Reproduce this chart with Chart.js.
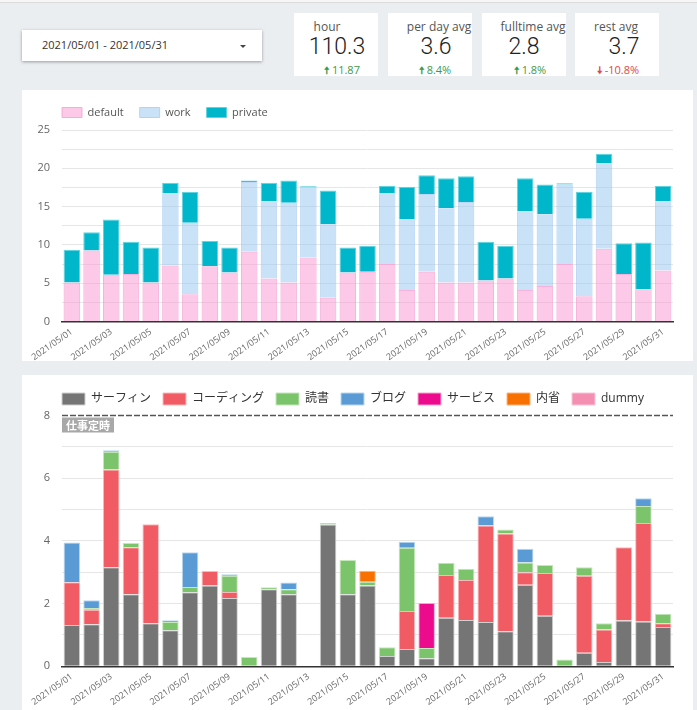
<!DOCTYPE html>
<html>
<head>
<meta charset="utf-8">
<script src="https://cdn.jsdelivr.net/npm/chart.js@4.4.1/dist/chart.umd.min.js"></script>
<style>
  body { margin: 0; width: 697px; height: 710px; overflow: hidden; background: #ebeef1;
         font-family: 'Open Sans', 'Noto Sans CJK JP', sans-serif; position: relative; }
  .topline { position: absolute; left: 0; top: 0; width: 697px; height: 2px; background: #f6f6f6; border-bottom: 1px solid #dcdcdc; }
  .picker { position: absolute; left: 22px; top: 30px; width: 240px; height: 31px; background: #fff;
            box-shadow: 0 1px 3px rgba(0,0,0,0.35); }
  .picker span { position: absolute; left: 20px; top: 7px; font-size: 11px; color: #333; }
  .picker i { position: absolute; left: 218px; top: 15px; width: 0; height: 0;
              border-left: 3px solid transparent; border-right: 3px solid transparent; border-top: 3px solid #444; }
  .card { position: absolute; top: 13px; height: 63px; background: #fff; }
  .card span { position: absolute; transform: translateX(-50%); white-space: nowrap; }
  .card .lbl { top: 5px; font-size: 12px; color: #555; }
  .card .val { top: 20px; font-size: 23px; color: #222; font-family: Roboto, sans-serif; font-weight: 300; }
  .card .up { top: 49px; font-size: 11px; color: #3b9a4b; }
  .card .down { top: 49px; font-size: 11px; color: #e04848; }
  .card b { font-size: 10px; }
  .panel { position: absolute; left: 22px; width: 671px; background: #fff; }
</style>
</head>
<body>
<div class="topline"></div>
<div class="picker"><span>2021/05/01 - 2021/05/31</span><i></i></div>

<div class="card" style="left:294px;width:84px">
  <span class="lbl" style="left:33px">hour</span>
  <span class="val" style="left:43px">110.3</span>
  <span class="up" style="left:48px"><b>🠅</b> 11.87</span>
</div>
<div class="card" style="left:388px;width:84px">
  <span class="lbl" style="left:51px">per day avg</span>
  <span class="val" style="left:48px">3.6</span>
  <span class="up" style="left:47px"><b>🠅</b> 8.4%</span>
</div>
<div class="card" style="left:482px;width:84px">
  <span class="lbl" style="left:51px">fulltime avg</span>
  <span class="val" style="left:42px">2.8</span>
  <span class="up" style="left:48px"><b>🠅</b> 1.8%</span>
</div>
<div class="card" style="left:575px;width:84px">
  <span class="lbl" style="left:41px">rest avg</span>
  <span class="val" style="left:49px">3.7</span>
  <span class="down" style="left:43px"><b>🠇</b> -10.8%</span>
</div>

<div class="panel" style="top:90px;height:271px"><canvas id="dailyChart" width="671" height="271"></canvas></div>
<div class="panel" style="top:375px;height:340px"><canvas id="taskChart" width="671" height="335"></canvas></div>

<script>
// ========================== Data ==========================
const days = [];
for (let d = 1; d <= 31; d++) days.push('2021/05/' + String(d).padStart(2, '0'));

// chart 1: hours per day by calendar
const defaultHours = [5.1, 9.26, 6.1, 6.2, 5.1, 7.3, 3.56, 7.2, 6.4, 9.1, 5.6, 5.1, 8.35, 3.1, 6.4,
  6.5, 7.5, 4.1, 6.5, 5.1, 5.1, 5.35, 5.6, 4.1, 4.65, 7.5, 3.3, 9.5, 6.2, 4.2, 6.65];
const workHours = [0, 0, 0, 0, 0, 9.4, 9.34, 0, 0, 9.1, 10.1, 10.4, 9.25, 9.6, 0,
  0, 9.2, 9.25, 10.15, 9.7, 10.5, 0, 0, 10.3, 9.35, 10.4, 10.1, 11.15, 0, 0, 9.05];
const privateHours = [4.25, 2.39, 7.2, 4.2, 4.55, 1.4, 4.0, 3.3, 3.25, 0.2, 2.4, 2.9, 0.1, 4.4, 3.25,
  3.37, 1.0, 4.25, 2.45, 3.9, 3.35, 5.05, 4.27, 4.3, 3.9, 0.15, 3.5, 1.25, 4.0, 6.1, 2.0];

// chart 2: private time by task
const surfing = [1.32, 1.34, 3.16, 2.3, 1.37, 1.15, 2.36, 2.58, 2.18, 0, 2.46, 2.3, 0, 4.52, 2.3,
  2.58, 0.33, 0.55, 0.26, 1.55, 1.48, 1.41, 1.12, 2.6, 1.61, 0, 0.43, 0.14, 1.46, 1.43, 1.25];
const coding = [1.36, 0.46, 3.12, 1.5, 3.16, 0, 0, 0.46, 0.19, 0, 0, 0, 0, 0, 0,
  0, 0, 1.21, 0, 1.36, 1.27, 3.08, 3.12, 0.4, 1.37, 0, 2.46, 1.03, 2.34, 3.14, 0.12];
const reading = [0, 0.06, 0.56, 0.13, 0, 0.26, 0.17, 0, 0.52, 0.3, 0.06, 0.16, 0, 0.05, 1.09,
  0.12, 0.28, 2.02, 0.32, 0.39, 0.36, 0, 0.12, 0.31, 0.25, 0.22, 0.27, 0.2, 0, 0.54, 0.31];
const blog = [1.27, 0.25, 0.05, 0, 0, 0.06, 1.11, 0, 0.05, 0, 0, 0.21, 0, 0, 0,
  0, 0, 0.19, 0, 0, 0, 0.3, 0, 0.44, 0, 0, 0, 0, 0, 0.25, 0];
const service = [0, 0, 0, 0, 0, 0, 0, 0, 0, 0, 0, 0, 0, 0, 0,
  0, 0, 0, 1.44, 0, 0, 0, 0, 0, 0, 0, 0, 0, 0, 0, 0];
const reflection = [0, 0, 0, 0, 0, 0, 0, 0, 0, 0, 0, 0, 0, 0, 0,
  0.35, 0, 0, 0, 0, 0, 0, 0, 0, 0, 0, 0, 0, 0, 0, 0];
const dummy = days.map(() => 0);

const workLimit = 8;
const workLimitLabel = '仕事定時';

// ========================== Common ==========================
Chart.defaults.font.family = "'Open Sans', 'Noto Sans CJK JP', sans-serif";
Chart.defaults.animation = false;

const noZero = arr => arr.map(v => (v ? v : null));
const dateTicks = {
  autoSkip: false, maxRotation: 35, minRotation: 35, padding: -3,
  color: '#666', font: { size: 9 },
  callback: function (val, idx) { return idx % 2 === 0 ? this.getLabelForValue(val) : ''; }
};

function barSet(label, data, bg, border) {
  return { label, data: noZero(data), backgroundColor: bg, borderColor: border, borderWidth: 1,
    barPercentage: 0.84, categoryPercentage: 1 };
}

// moves the legend so it lines up with the plot area instead of the canvas edge
const legendOffset = {
  id: 'legendOffset',
  afterLayout(chart, args, opts) {
    const lg = chart.legend;
    const dx = opts.dx || 0, dy = opts.dy || 0;
    lg.left += dx; lg.right += dx; lg.top += dy; lg.bottom += dy;
  }
};

// ========================== Chart 1 ==========================
new Chart(document.getElementById('dailyChart'), {
  type: 'bar',
  data: {
    labels: days,
    datasets: [
      barSet('default', defaultHours, 'rgba(250,150,210,0.5)', 'rgba(245,160,210,0.8)'),
      barSet('work', workHours, 'rgba(150,197,242,0.5)', 'rgba(160,200,240,0.7)'),
      barSet('private', privateHours, '#00b6cb', '#5fd3e0')
    ]
  },
  plugins: [legendOffset],
  options: {
    responsive: false,
    layout: { padding: { left: 8, right: 20, top: 3, bottom: 0 } },
    plugins: {
      tooltip: { enabled: false },
      legendOffset: { dx: 16, dy: -2 },
      legend: {
        align: 'start',
        labels: { boxWidth: 20, boxHeight: 10, padding: 16, color: '#555', font: { size: 11 } }
      }
    },
    scales: {
      x: {
        stacked: true,
        grid: { display: false },
        border: { color: '#333', width: 1.5 },
        ticks: dateTicks,
        afterFit: s => { s.height = 39.5; }
      },
      y: {
        stacked: true, min: 0, max: 25,
        grid: { color: '#e6e6e6', drawTicks: false },
        border: { display: false },
        ticks: { stepSize: 2.5, padding: 12, color: '#666', font: { size: 11 },
          callback: v => (v % 5 === 0 ? v : '') },
        afterFit: s => { s.width = 32; }
      }
    }
  }
});

// ========================== Chart 2 ==========================
const workLimitLine = {
  id: 'workLimitLine',
  afterDraw(chart) {
    const { ctx, chartArea, scales } = chart;
    const y = scales.y.getPixelForValue(workLimit);
    ctx.save();
    ctx.strokeStyle = '#555';
    ctx.lineWidth = 1.5;
    ctx.setLineDash([6, 2]);
    ctx.beginPath();
    ctx.moveTo(chartArea.left, y);
    ctx.lineTo(chartArea.right, y);
    ctx.stroke();
    ctx.setLineDash([]);
    ctx.font = "bold 11px 'Noto Sans CJK JP', sans-serif";
    const w = ctx.measureText(workLimitLabel).width + 8;
    ctx.fillStyle = '#a8a8a8';
    ctx.fillRect(chartArea.left, y + 2, w, 15);
    ctx.fillStyle = '#fff';
    ctx.textBaseline = 'middle';
    ctx.fillText(workLimitLabel, chartArea.left + 4, y + 10);
    ctx.restore();
  }
};

new Chart(document.getElementById('taskChart'), {
  type: 'bar',
  data: {
    labels: days,
    datasets: [
      barSet('サーフィン', surfing, '#757575', '#cfcfcf'),
      barSet('コーディング', coding, '#f15b63', '#f9b8bc'),
      barSet('読書', reading, '#7bc46b', '#c4e7bb'),
      barSet('ブログ', blog, '#5b9bd5', '#b9d6f0'),
      barSet('サービス', service, '#ec0b8c', '#f6a3d0'),
      barSet('内省', reflection, '#f77000', '#fbb580'),
      barSet('dummy', dummy, '#f48fb1', '#f9c5d8')
    ]
  },
  plugins: [workLimitLine, legendOffset],
  options: {
    responsive: false,
    layout: { padding: { left: 8, right: 20, top: 6.5, bottom: 0 } },
    plugins: {
      tooltip: { enabled: false },
      legendOffset: { dx: 20, dy: -0.5 },
      legend: {
        align: 'start',
        labels: { boxWidth: 23, boxHeight: 12, padding: 12, color: '#333', font: { size: 12 } }
      }
    },
    scales: {
      x: {
        stacked: true,
        grid: { display: false },
        border: { color: '#333', width: 1.5 },
        ticks: dateTicks,
        afterFit: s => { s.height = 43.7; }
      },
      y: {
        stacked: true, min: 0, max: 8,
        grid: { color: c => (c.tick.value === workLimit ? 'rgba(0,0,0,0)' : '#e6e6e6'), drawTicks: false },
        border: { display: false },
        ticks: { stepSize: 1, padding: 12, color: '#666', font: { size: 11 },
          callback: v => (v % 2 === 0 ? v : '') },
        afterFit: s => { s.width = 32; }
      }
    }
  }
});
</script>
</body>
</html>
